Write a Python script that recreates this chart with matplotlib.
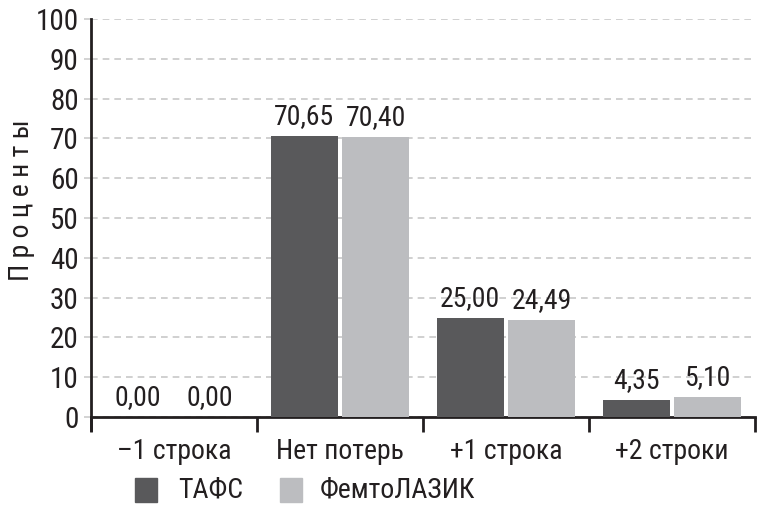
import matplotlib
matplotlib.use("Agg")
import matplotlib.pyplot as plt
import numpy as np
from matplotlib.patches import Rectangle

categories = ["–1 строка", "Нет потерь", "+1 строка", "+2 строки"]
tafs = [0.00, 70.65, 25.00, 4.35]
femto = [0.00, 70.40, 24.49, 5.10]
series_names = ["ТАФС", "ФемтоЛАЗИК"]
yticks = list(range(0, 101, 10))

DARK = "#59595b"
LIGHT = "#bcbdc0"
TEXT = "#231f20"
FS = 20

plt.rcParams["font.family"] = ["Roboto Condensed", "DejaVu Sans"]
plt.rcParams["text.color"] = TEXT


def fmt(v):
    return f"{v:.2f}".replace(".", ",")


fig = plt.figure(figsize=(7.67, 5.12), dpi=100)
ax = fig.add_axes([91 / 767, 1 - 417 / 512, 664 / 767, 398 / 512])

x = np.arange(len(categories))
w = 0.4
b1 = ax.bar(x - w / 2 - 0.015, tafs, w, color=DARK, zorder=3)
b2 = ax.bar(x + w / 2 + 0.015, femto, w, color=LIGHT, zorder=3)

for bars, vals in ((b1, tafs), (b2, femto)):
    for r, v in zip(bars, vals):
        ax.annotate(fmt(v), (r.get_x() + r.get_width() / 2, v), xytext=(0, 4),
                    textcoords="offset points", ha="center", va="bottom",
                    fontsize=FS, color=TEXT)

ax.set_xlim(-0.5, len(categories) - 0.5)
ax.set_ylim(0, 100)
ax.set_yticks(yticks)
ax.set_yticklabels([str(t) for t in yticks], fontsize=21, color=TEXT)
ax.tick_params(axis="y", length=5, width=1.2, color="#cccccc", pad=4)
ax.yaxis.grid(True, linestyle=(0, (4, 3)), color="#c8c8c8", linewidth=1.2, zorder=0)

ax.set_xticks(x)
ax.set_xticklabels(categories, fontsize=FS, color=TEXT)
ax.tick_params(axis="x", length=0, pad=15)
ax.set_xticks(np.arange(-0.5, len(categories), 1), minor=True)
ax.tick_params(axis="x", which="minor", length=11, width=2, color=TEXT)

for s in ("top", "right"):
    ax.spines[s].set_visible(False)
for s in ("left", "bottom"):
    ax.spines[s].set_linewidth(2)
    ax.spines[s].set_color(TEXT)
ax.spines["left"].set_bounds(-3.2, 100)

fig.text(22 / 767, 1 - 200 / 512, "П р о ц е н т ы", rotation=90, ha="center",
         va="center", fontsize=FS, color=TEXT)

# legend
for (lx, tx), name, col in zip(((135, 178), (280, 320)), series_names, (DARK, LIGHT)):
    fig.patches.append(Rectangle((lx / 767, 1 - 502 / 512), 22 / 767, 24 / 512,
                                 transform=fig.transFigure, color=col))
    fig.text(tx / 767, 1 - 490 / 512, name, ha="left", va="center",
             fontsize=FS, color=TEXT)

fig.savefig("out.png", dpi=100)
